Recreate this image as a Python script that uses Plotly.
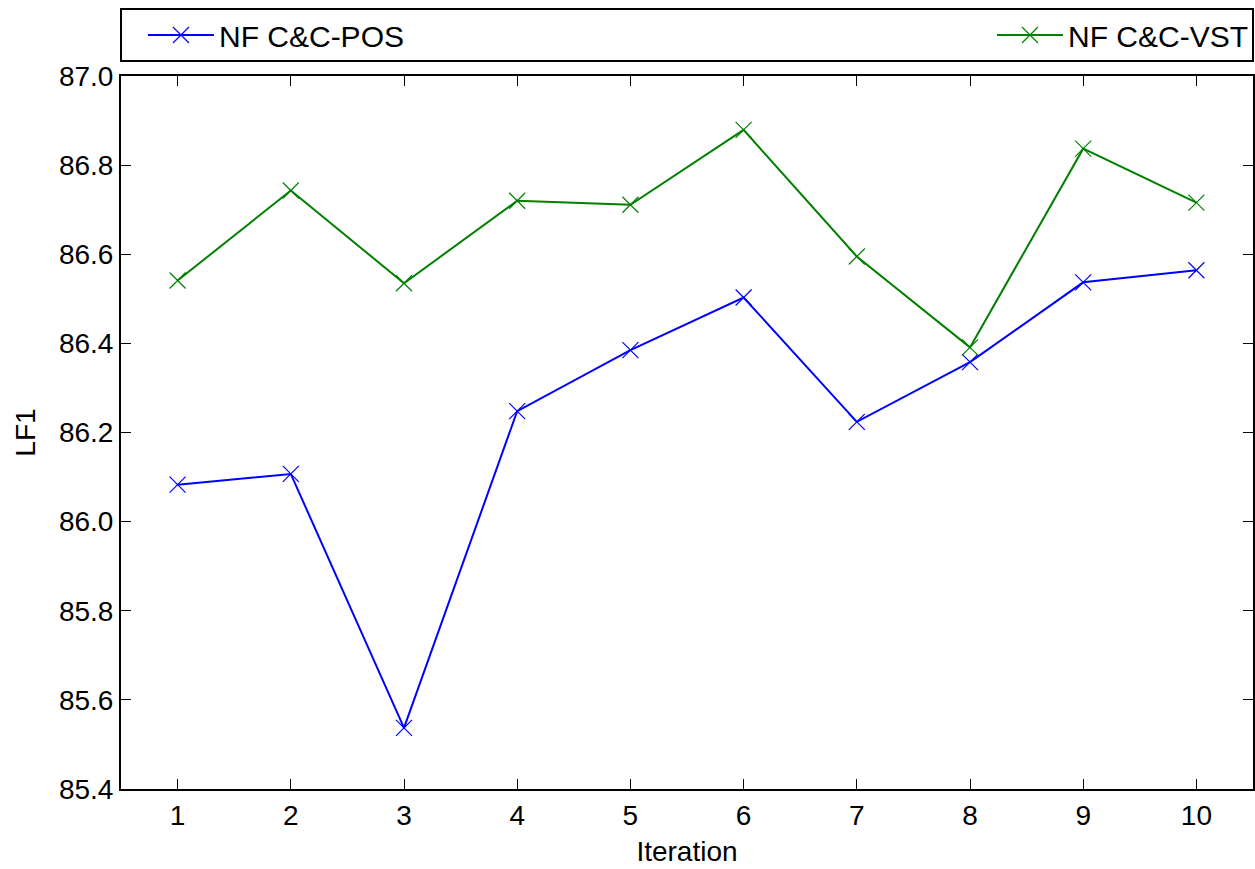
import plotly.graph_objects as go

iterations = [1, 2, 3, 4, 5, 6, 7, 8, 9, 10]
pos_values = [86.083, 86.107, 85.537, 86.248, 86.385, 86.503, 86.224, 86.358, 86.537, 86.564]
vst_values = [86.541, 86.743, 86.535, 86.720, 86.711, 86.879, 86.595, 86.391, 86.837, 86.716]
y_ticks = [85.4, 85.6, 85.8, 86.0, 86.2, 86.4, 86.6, 86.8, 87.0]

FONT = "Liberation Sans, Arial, sans-serif"

fig = go.Figure()
fig.add_trace(go.Scatter(
    x=iterations, y=pos_values, mode="lines+markers", name="NF C&C-POS",
    line=dict(color="#0000ff", width=2),
    marker=dict(symbol="x-thin-open", size=16, line=dict(color="#0000ff", width=1.2)),
    legend="legend",
))
fig.add_trace(go.Scatter(
    x=iterations, y=vst_values, mode="lines+markers", name="NF C&C-VST",
    line=dict(color="#008000", width=2),
    marker=dict(symbol="x-thin-open", size=16, line=dict(color="#008000", width=1.2)),
    legend="legend2",
))

axis_common = dict(
    showline=True, linecolor="black", linewidth=2, mirror="ticks",
    ticks="inside", ticklen=10, tickwidth=1.3, tickcolor="black",
    showgrid=False, zeroline=False,
    tickfont=dict(family=FONT, size=28, color="black"),
    title_font=dict(family=FONT, size=28, color="black"),
)

fig.update_xaxes(range=[0.5, 10.5], tickvals=iterations, title_text="Iteration",
                 title_standoff=12, **axis_common)
fig.update_yaxes(range=[85.4, 87.0], tickvals=y_ticks, tickformat=".1f",
                 title_text="LF1", title_standoff=15, **axis_common)

fig.add_shape(type="rect", xref="paper", yref="paper", x0=0, x1=1, y0=1.021, y1=1.094,
              line=dict(color="black", width=2), fillcolor="rgba(0,0,0,0)")

legend_font = dict(family=FONT, size=30, color="black")
fig.update_layout(
    width=1255, height=869,
    margin=dict(l=121, r=0, t=76, b=80),
    paper_bgcolor="white", plot_bgcolor="white",
    showlegend=True,
    legend=dict(x=0.0194, y=1.0575, xanchor="left", yanchor="middle", font=legend_font,
                itemwidth=66, bgcolor="rgba(0,0,0,0)", borderwidth=0),
    legend2=dict(x=1.0, y=1.0575, xanchor="right", yanchor="middle", font=legend_font,
                 itemwidth=66, bgcolor="rgba(0,0,0,0)", borderwidth=0),
)

fig.write_html("out.html", config={"displayModeBar": False},
               post_script="document.body.style.margin='0';document.body.style.overflow='hidden';")
